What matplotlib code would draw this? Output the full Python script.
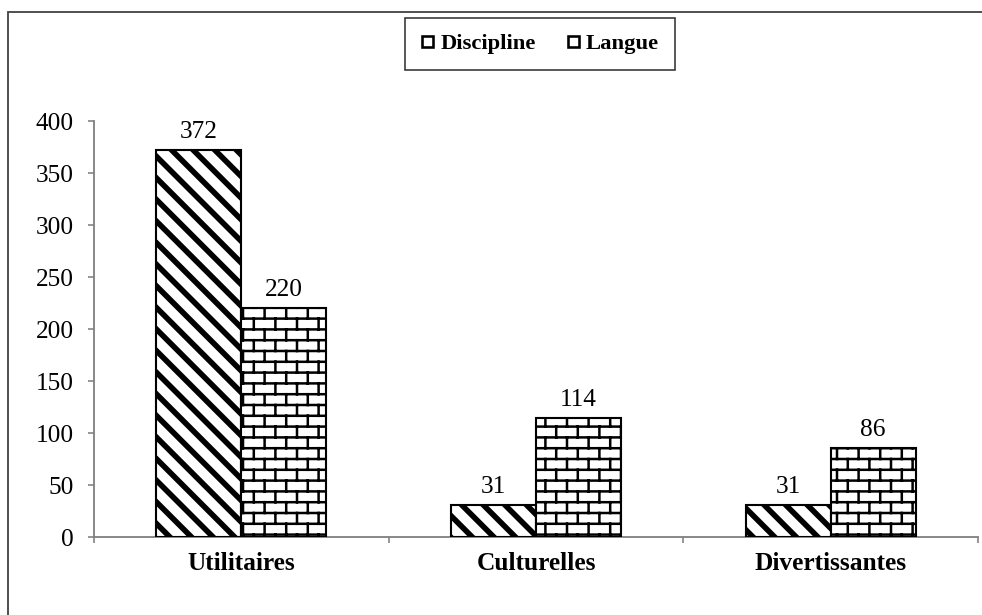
import numpy as np
import matplotlib
matplotlib.use("Agg")
import matplotlib.pyplot as plt
import matplotlib.hatch as mhatch
from matplotlib.path import Path
from matplotlib.patches import Rectangle
from matplotlib.lines import Line2D
import warnings

warnings.filterwarnings("ignore")

# ---------------- data ----------------
categories = ["Utilitaires", "Culturelles", "Divertissantes"]
series_names = ["Discipline", "Langue"]
discipline = [372, 31, 31]
langue = [220, 114, 86]
y_ticks = [0, 50, 100, 150, 200, 250, 300, 350, 400]


# ---------------- custom hatches ----------------
class StripeHatch(mhatch.HatchPatternBase):
    """Wide downward diagonal stripes."""
    def __init__(self, hatch, density):
        n = hatch.count('S')
        self.cs = np.arange(0, 2.0001, 0.2) if n else np.array([])
        self.num_vertices = len(self.cs) * 2

    def set_vertices_and_codes(self, vertices, codes):
        cs = self.cs
        vertices[0::2, 0] = cs - 1.5
        vertices[0::2, 1] = 1.5
        vertices[1::2, 0] = cs + 0.5
        vertices[1::2, 1] = -0.5
        codes[0::2] = Path.MOVETO
        codes[1::2] = Path.LINETO


class BrickHatch(mhatch.HatchPatternBase):
    def __init__(self, hatch, density):
        self.segs = []
        if hatch.count('B'):
            rows = 10
            h = 1.0 / rows
            w = 0.2
            for i in range(rows):
                y = 0.05 + i * h
                self.segs.append(((0.0, y), (1.0, y)))
            for i in range(rows):
                y0 = 0.05 + i * h
                y1 = y0 + h
                xoff = 0.05 if i % 2 == 0 else 0.15
                for k in range(5):
                    xx = xoff + k * w
                    if y1 <= 1.0 + 1e-9:
                        self.segs.append(((xx, y0), (xx, y1)))
                    else:
                        self.segs.append(((xx, y0), (xx, 1.0)))
                        self.segs.append(((xx, 0.0), (xx, y1 - 1.0)))
        self.num_vertices = len(self.segs) * 2

    def set_vertices_and_codes(self, vertices, codes):
        for j, (a, b) in enumerate(self.segs):
            vertices[2 * j] = a
            vertices[2 * j + 1] = b
            codes[2 * j] = Path.MOVETO
            codes[2 * j + 1] = Path.LINETO


mhatch._hatch_types.append(StripeHatch)
mhatch._hatch_types.append(BrickHatch)

# ---------------- figure ----------------
W, H, DPI = 982, 615, 108.5


def pt(px):
    return px * 72.0 / DPI


fig = plt.figure(figsize=(W / DPI, H / DPI), dpi=DPI)
plt.rcParams['font.family'] = ['Liberation Serif', 'DejaVu Serif']

ax_left, ax_right = 94 / W, 978 / W
ax_bottom, ax_top = (H - 537) / H, (H - 121) / H
ax = fig.add_axes([ax_left, ax_bottom, ax_right - ax_left, ax_top - ax_bottom])

x = np.arange(len(categories))
bw = 0.289
fs = pt(25.4)
spine_col = "#7f7f7f"

stripe_lw = pt(5.6)
brick_lw = pt(2.5)

plt.rcParams['hatch.color'] = 'black'
plt.rcParams['hatch.linewidth'] = stripe_lw
b1 = ax.bar(x - bw / 2, discipline, bw, facecolor='white', edgecolor='black',
            linewidth=pt(2.1), hatch='S', zorder=3)
for p in b1:
    if hasattr(p, 'set_hatch_linewidth'):
        p.set_hatch_linewidth(stripe_lw)
plt.rcParams['hatch.linewidth'] = brick_lw
b2 = ax.bar(x + bw / 2, langue, bw, facecolor='white', edgecolor='black',
            linewidth=pt(2.1), hatch='B', zorder=3)
for p in b2:
    if hasattr(p, 'set_hatch_linewidth'):
        p.set_hatch_linewidth(brick_lw)

for bars, vals in ((b1, discipline), (b2, langue)):
    for rect, v in zip(bars, vals):
        ax.annotate(str(v), (rect.get_x() + rect.get_width() / 2, v),
                    xytext=(0, pt(7)), textcoords='offset points',
                    ha='center', va='bottom', fontsize=fs)

ax.set_xlim(-0.5, len(categories) - 0.5)
ax.set_ylim(0, 400)
ax.set_yticks(y_ticks)
ax.set_yticklabels([str(t) for t in y_ticks], fontsize=fs)
ax.set_xticks(np.arange(len(categories) + 1) - 0.5)
ax.set_xticklabels([])
ax.set_xticks(x, minor=True)
ax.set_xticklabels(categories, minor=True, fontsize=fs, fontweight='bold')
ax.tick_params(axis='x', which='minor', length=0, pad=pt(15))
ax.tick_params(axis='x', which='major', length=pt(6), width=pt(1.6),
               color=spine_col, direction='out')
ax.tick_params(axis='y', length=pt(6), width=pt(1.6), color=spine_col,
               direction='out', pad=pt(14))

for s in ('top', 'right'):
    ax.spines[s].set_visible(False)
for s in ('left', 'bottom'):
    ax.spines[s].set_color(spine_col)
    ax.spines[s].set_linewidth(pt(1.8))
ax.patch.set_alpha(0)

# legend
handles = [Line2D([], [], marker='s', markersize=pt(11), markerfacecolor='white',
                  markeredgecolor='black', markeredgewidth=pt(2.6), linestyle='none')
           for _ in series_names]
leg = fig.legend(handles, series_names, loc='center',
                 bbox_to_anchor=(540 / W, (H - 44) / H), ncol=2,
                 prop={'family': 'Liberation Serif', 'weight': 'bold', 'size': pt(22.6)},
                 frameon=True, fancybox=False, edgecolor='black',
                 handlelength=0.6, handletextpad=0.3, columnspacing=1.3,
                 borderpad=0.7)
leg.get_frame().set_linewidth(pt(1.6))

# outer border (extends beyond the right and bottom edges)
fig.add_artist(Rectangle((8 / W, -0.2), 1.3, (H - 12) / H + 0.2,
                         transform=fig.transFigure, fill=False,
                         edgecolor='#404040', linewidth=pt(1.8), clip_on=False))

fig.savefig("out.png", dpi=DPI)
